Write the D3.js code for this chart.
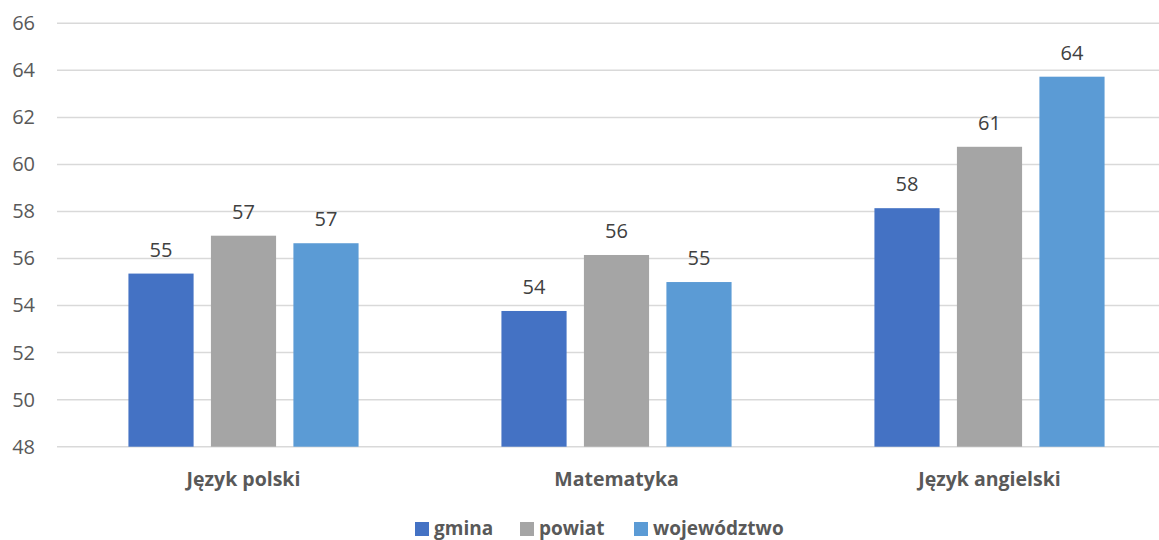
<!DOCTYPE html>
<html>
<head>
<meta charset="utf-8">
<script src="https://cdn.jsdelivr.net/npm/d3@7"></script>
<style>
  body { margin: 0; background: #fff; }
  svg { display: block; font-family: "Open Sans", sans-serif; }
</style>
</head>
<body>
<script>
const categories = ["Język polski", "Matematyka", "Język angielski"];
const seriesNames = ["gmina", "powiat", "województwo"];
const gmina = [55.36, 53.77, 58.14];
const powiat = [56.97, 56.15, 60.75];
const wojewodztwo = [56.65, 55.0, 63.73];
const yTicks = [48, 50, 52, 54, 56, 58, 60, 62, 64, 66];
const colors = ["#4472C4", "#A5A5A5", "#5B9BD5"];

const width = 1159, height = 540;
const marginLeft = 57, plotRight = 1176, plotTop = 23.3, plotBottom = 446.7;

const values = [gmina, powiat, wojewodztwo];
const data = categories.map((c, i) => ({
  category: c,
  bars: seriesNames.map((s, j) => ({series: s, value: values[j][i], color: colors[j]}))
}));

const x = d3.scaleBand()
    .domain(categories)
    .range([marginLeft, plotRight])
    .paddingInner(0.383)
    .paddingOuter(0.1915);

const xs = d3.scaleBand()
    .domain(seriesNames)
    .range([0, x.bandwidth()])
    .paddingInner(0.21);

const y = d3.scaleLinear()
    .domain([48, 66])
    .range([plotBottom, plotTop]);

const svg = d3.select("body").append("svg")
    .attr("width", width)
    .attr("height", height);

// grid
svg.append("g")
    .selectAll("line")
    .data(yTicks)
    .join("line")
    .attr("x1", marginLeft)
    .attr("x2", plotRight)
    .attr("y1", d => y(d))
    .attr("y2", d => y(d))
    .attr("stroke", "#d9d9d9")
    .attr("stroke-width", 1.5);

// y axis labels
const yAxis = svg.append("g")
    .attr("transform", `translate(${marginLeft - 22},0)`)
    .call(d3.axisLeft(y).tickValues(yTicks).tickSize(0).tickPadding(0));
yAxis.select(".domain").remove();
yAxis.selectAll("text")
    .attr("font-family", "'Open Sans', sans-serif")
    .attr("font-size", 20)
    .attr("fill", "#595959");

// bars
const groups = svg.append("g")
    .selectAll("g")
    .data(data)
    .join("g")
    .attr("transform", d => `translate(${x(d.category)},0)`);

groups.selectAll("rect")
    .data(d => d.bars)
    .join("rect")
    .attr("x", d => xs(d.series))
    .attr("width", xs.bandwidth())
    .attr("y", d => y(d.value))
    .attr("height", d => y(48) - y(d.value))
    .attr("fill", d => d.color);

groups.selectAll("text")
    .data(d => d.bars)
    .join("text")
    .attr("x", d => xs(d.series) + xs.bandwidth() / 2)
    .attr("y", d => y(d.value) - 17)
    .attr("text-anchor", "middle")
    .attr("font-size", 20)
    .attr("fill", "#404040")
    .text(d => Math.round(d.value));

// category labels
const xAxis = svg.append("g")
    .attr("transform", `translate(0,${plotBottom})`)
    .call(d3.axisBottom(x).tickSize(0).tickPadding(0));
xAxis.select(".domain").remove();
xAxis.selectAll("text")
    .attr("dy", null)
    .attr("y", 39)
    .attr("font-family", "'Open Sans', sans-serif")
    .attr("font-size", 19.5)
    .attr("font-weight", "bold")
    .attr("fill", "#595959");

// legend
const legendX = [415, 520, 634];
const legend = svg.append("g")
    .selectAll("g")
    .data(seriesNames)
    .join("g")
    .attr("transform", (d, i) => `translate(${legendX[i]},522)`);
legend.append("rect")
    .attr("width", 14)
    .attr("height", 14)
    .attr("fill", (d, i) => colors[i]);
legend.append("text")
    .attr("x", 19)
    .attr("y", 13)
    .attr("font-size", 19)
    .attr("font-weight", "bold")
    .attr("fill", "#595959")
    .text(d => d);
</script>
</body>
</html>
